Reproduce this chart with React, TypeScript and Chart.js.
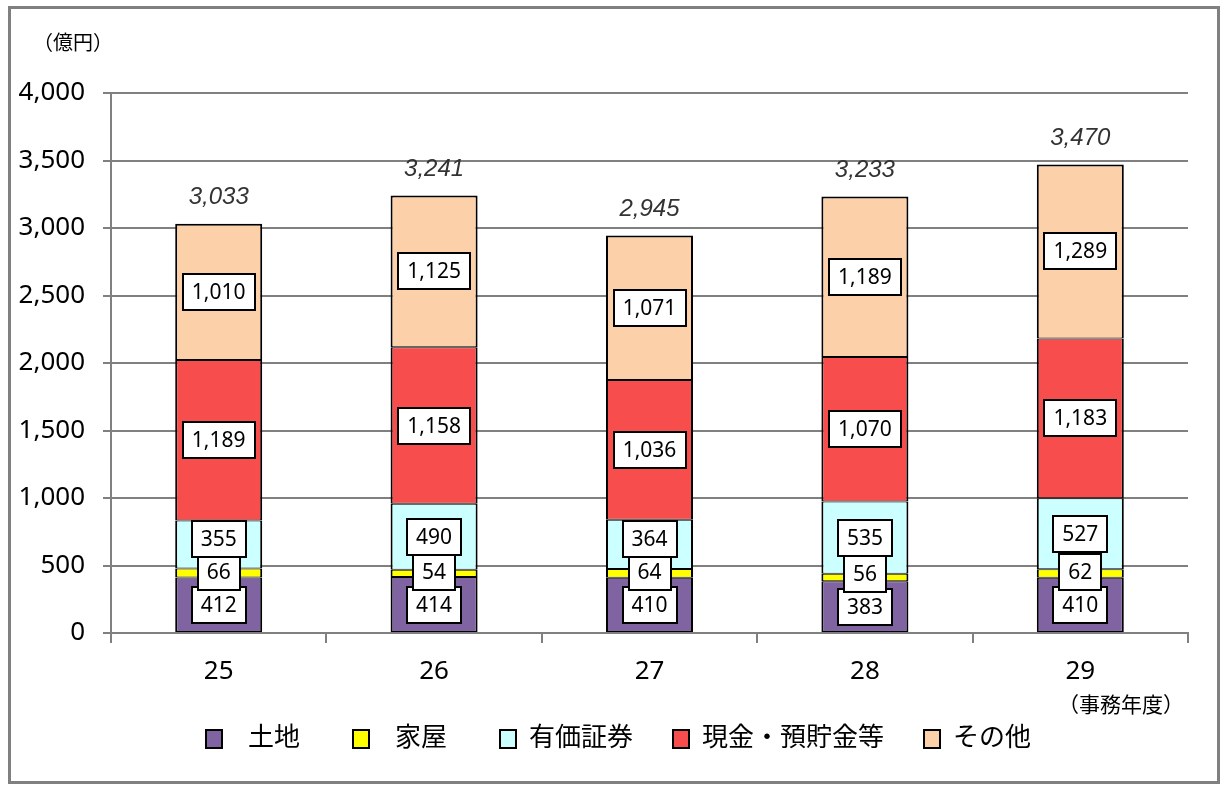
import { useEffect, useRef } from 'react';
import { Chart, registerables } from 'chart.js';

Chart.register(...registerables);

const years = ['25', '26', '27', '28', '29'];
const land = [412, 414, 410, 383, 410];
const houses = [66, 54, 64, 56, 62];
const securities = [355, 490, 364, 535, 527];
const cash = [1189, 1158, 1036, 1070, 1183];
const others = [1010, 1125, 1071, 1189, 1289];
const totals = [3033, 3241, 2945, 3233, 3470];
const seriesNames = ['\u2002土地\u2002', '\u2002家屋\u2002', '有価証券', '現金・預貯金等', 'その他'];
const yUnitLabel = '（億円）';
const xUnitLabel = '（事務年度）';

const FONT = '"Noto Sans", "Noto Sans CJK JP", sans-serif';
const fmt = (v: number) => v.toLocaleString('en-US');

const segLabels = {
  id: 'segLabels',
  afterDatasetsDraw(chart: any) {
    const ctx = chart.ctx;
    ctx.save();
    ctx.font = `21px ${FONT}`;
    ctx.textAlign = 'center';
    ctx.textBaseline = 'middle';
    const n = chart.data.labels.length;
    for (let i = 0; i < n; i++) {
      let prevTop = Infinity;
      chart.data.datasets.forEach((ds: any, di: number) => {
        const el = chart.getDatasetMeta(di).data[i];
        const v = ds.data[i];
        const text = fmt(v);
        const w = Math.round(ctx.measureText(text).width + 18);
        const h = 36;
        let cy = (el.y + el.base) / 2;
        if (cy + h / 2 > prevTop + 3) cy = prevTop + 3 - h / 2;
        const bx = Math.round(el.x - w / 2);
        const by = Math.round(cy - h / 2);
        ctx.fillStyle = '#fff';
        ctx.fillRect(bx, by, w, h);
        ctx.lineWidth = 2;
        ctx.strokeStyle = '#000';
        ctx.strokeRect(bx, by, w, h);
        ctx.fillStyle = '#000';
        ctx.fillText(text, el.x, by + h / 2 + 1);
        prevTop = by;
      });
    }
    ctx.restore();
  },
};

const totalLabels = {
  id: 'totalLabels',
  afterDatasetsDraw(chart: any) {
    const ctx = chart.ctx;
    const ys = chart.scales.y;
    const meta = chart.getDatasetMeta(0);
    ctx.save();
    ctx.font = `italic 24px "Liberation Sans", sans-serif`;
    ctx.fillStyle = '#333';
    ctx.textAlign = 'center';
    ctx.textBaseline = 'middle';
    totals.forEach((t, i) => {
      const x = meta.data[i].x;
      ctx.fillText(fmt(t), x, ys.getPixelForValue(t) - 26);
    });
    ctx.restore();
  },
};

const unitLabels = {
  id: 'unitLabels',
  afterLayout(chart: any) {
    if (chart.legend) {
      chart.legend.left += 19;
      chart.legend.right += 19;
    }
  },
  afterDraw(chart: any) {
    const ctx = chart.ctx;
    const area = chart.chartArea;
    ctx.save();
    ctx.fillStyle = '#000';
    ctx.font = `20px ${FONT}`;
    ctx.textBaseline = 'middle';
    ctx.textAlign = 'left';
    ctx.fillText(yUnitLabel, area.left - 78, area.top - 49);
    ctx.font = `21px ${FONT}`;
    ctx.textAlign = 'right';
    ctx.fillText(xUnitLabel, area.right - 4, area.bottom + 73);
    ctx.restore();
  },
};

export default function App() {
  const ref = useRef<HTMLCanvasElement>(null);

  useEffect(() => {
    if (!ref.current) return;
    const mk = (label: string, data: number[], color: string, top: boolean) => ({
      label,
      data,
      backgroundColor: color,
      borderColor: '#000',
      borderWidth: { left: 2, right: 2, top: top ? 2 : 1, bottom: 1 },
      borderSkipped: false,
      barPercentage: 0.404,
      categoryPercentage: 1,
    });
    const chart = new Chart(ref.current, {
      type: 'bar',
      data: {
        labels: years,
        datasets: [
          mk(seriesNames[0], land, '#8064A2', false),
          mk(seriesNames[1], houses, '#FFFF00', false),
          mk(seriesNames[2], securities, '#CCFFFF', false),
          mk(seriesNames[3], cash, '#F74D4D', false),
          mk(seriesNames[4], others, '#FCD0A8', true),
        ] as any,
      },
      options: {
        animation: false,
        responsive: false,
        devicePixelRatio: 1,
        layout: { padding: { top: 93, left: 11, right: 38, bottom: 30 } },
        plugins: {
          tooltip: { enabled: false },
          legend: {
            position: 'bottom',
            labels: {
              color: '#000',
              font: { family: FONT, size: 26 },
              boxWidth: 16,
              boxHeight: 18,
              padding: 40,
              generateLabels: (chart: any) =>
                chart.data.datasets.map((ds: any, i: number) => ({
                  text: ds.label,
                  fillStyle: ds.backgroundColor,
                  strokeStyle: '#000',
                  lineWidth: 2,
                  hidden: false,
                  datasetIndex: i,
                  fontColor: '#000',
                })),
            },
          },
        },
        scales: {
          x: {
            stacked: true,
            grid: {
              display: true,
              drawOnChartArea: false,
              drawTicks: true,
              tickLength: 10,
              color: '#808080',
              lineWidth: 2,
              offset: true,
            },
            border: { display: true, color: '#808080', width: 2 },
            ticks: { color: '#000', font: { family: FONT, size: 26 }, padding: 13 },
            afterFit: (s: any) => {
              s.height = 53;
            },
          },
          y: {
            stacked: true,
            min: 0,
            max: 4000,
            grid: { color: '#808080', lineWidth: 2, tickLength: 8 },
            border: { display: true, color: '#808080', width: 2 },
            ticks: {
              stepSize: 500,
              color: '#000',
              font: { family: FONT, size: 26 },
              padding: 18,
              callback: (v: any) => fmt(Number(v)),
            },
            afterFit: (s: any) => {
              s.width = 100;
            },
          },
        },
      },
      plugins: [segLabels, totalLabels, unitLabels],
    });
    return () => chart.destroy();
  }, []);

  return (
    <div style={{ position: 'fixed', left: 0, top: 0, width: 1226, height: 792, background: '#fff' }}>
      <canvas ref={ref} width={1226} height={792} style={{ position: 'absolute', left: 0, top: 0 }} />
      <div
        style={{
          position: 'absolute',
          left: 8,
          top: 6,
          width: 1212,
          height: 778,
          border: '3px solid #808080',
          boxSizing: 'border-box',
          pointerEvents: 'none',
        }}
      />
    </div>
  );
}
